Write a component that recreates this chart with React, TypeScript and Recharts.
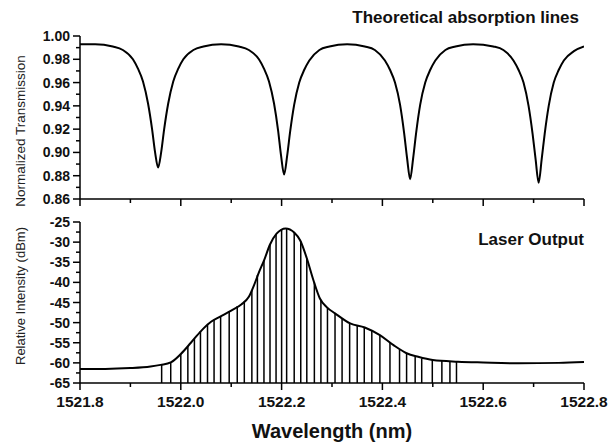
import { ComposedChart, Line, XAxis, YAxis, ReferenceLine } from 'recharts'

const FONT = '"Liberation Sans", Arial, sans-serif'

// top panel: theoretical transmission
const transWavelength = [
  1521.8, 1521.83, 1521.865, 1521.885, 1521.905, 1521.915, 1521.925, 1521.935, 1521.943, 1521.949,
  1521.955, 1521.961, 1521.967, 1521.975, 1521.985, 1521.995, 1522.005, 1522.025, 1522.045, 1522.08,
  1522.115, 1522.135, 1522.155, 1522.165, 1522.175, 1522.185, 1522.193, 1522.199, 1522.205, 1522.211,
  1522.217, 1522.225, 1522.235, 1522.245, 1522.255, 1522.275, 1522.295, 1522.33,
  1522.365, 1522.385, 1522.405, 1522.415, 1522.425, 1522.435, 1522.443, 1522.449, 1522.455, 1522.461,
  1522.467, 1522.475, 1522.485, 1522.495, 1522.505, 1522.525, 1522.545, 1522.58,
  1522.62, 1522.64, 1522.66, 1522.67, 1522.68, 1522.69, 1522.698, 1522.704, 1522.71, 1522.716,
  1522.722, 1522.73, 1522.74, 1522.75, 1522.76, 1522.78, 1522.8,
]
const transValue = [
  0.993, 0.993, 0.991, 0.988, 0.98, 0.972, 0.961, 0.942, 0.92, 0.9,
  0.887, 0.9, 0.92, 0.942, 0.961, 0.972, 0.98, 0.988, 0.991, 0.993,
  0.991, 0.988, 0.98, 0.972, 0.961, 0.942, 0.919, 0.897, 0.881, 0.897,
  0.918, 0.941, 0.96, 0.971, 0.979, 0.988, 0.991, 0.993,
  0.991, 0.988, 0.979, 0.971, 0.96, 0.941, 0.917, 0.895, 0.877, 0.895,
  0.917, 0.941, 0.96, 0.971, 0.979, 0.988, 0.991, 0.993,
  0.991, 0.988, 0.979, 0.971, 0.96, 0.94, 0.916, 0.894, 0.874, 0.894,
  0.916, 0.94, 0.96, 0.971, 0.979, 0.987, 0.991,
]
const transMajorTicks = [0.86, 0.88, 0.9, 0.92, 0.94, 0.96, 0.98, 1.0]
const transMinorTicks = [0.87, 0.89, 0.91, 0.93, 0.95, 0.97, 0.99]

// bottom panel: laser output envelope
const laserWavelength = [
  1521.8, 1521.85, 1521.9, 1521.94, 1521.96, 1521.98, 1522.0, 1522.02, 1522.04, 1522.06,
  1522.08, 1522.1, 1522.12, 1522.135, 1522.145, 1522.155, 1522.165, 1522.177, 1522.19, 1522.208,
  1522.225, 1522.237, 1522.25, 1522.263, 1522.276, 1522.29, 1522.306, 1522.336, 1522.365, 1522.395,
  1522.422, 1522.448, 1522.471, 1522.5, 1522.55, 1522.6, 1522.67, 1522.75, 1522.8,
]
const laserIntensity = [
  -61.5, -61.5, -61.3, -60.9, -60.5, -59.9, -57.8, -55.0, -52.1, -49.8,
  -48.4, -47.0, -45.5, -43.6, -40.8, -37.5, -34.6, -30.6, -27.9, -26.6,
  -27.6, -29.6, -34.0, -39.4, -44.0, -46.2, -47.7, -50.2, -51.2, -53.1,
  -55.6, -57.6, -58.5, -59.3, -59.7, -59.9, -60.1, -60.0, -59.8,
]

// individual longitudinal modes
const modeWavelength = [
  1521.962, 1521.98, 1522.0, 1522.014, 1522.027, 1522.039, 1522.053, 1522.066, 1522.079, 1522.096,
  1522.112, 1522.126, 1522.141, 1522.152, 1522.165, 1522.177, 1522.189, 1522.2, 1522.21, 1522.225,
  1522.238, 1522.25, 1522.265, 1522.278, 1522.291, 1522.306, 1522.32, 1522.335, 1522.35, 1522.364,
  1522.379, 1522.395, 1522.415, 1522.434, 1522.448, 1522.465, 1522.478, 1522.499, 1522.518, 1522.534,
  1522.547,
]
const modeIntensity = [
  -60.4, -59.9, -57.8, -55.8, -54.0, -52.1, -50.3, -49.3, -48.4, -47.2,
  -45.9, -44.8, -41.9, -38.2, -34.6, -30.5, -28.0, -26.8, -26.6, -27.6,
  -29.8, -34.0, -40.0, -44.4, -46.3, -47.7, -49.0, -50.1, -50.8, -51.2,
  -52.0, -53.1, -55.0, -56.6, -57.6, -58.4, -58.9, -59.3, -59.5, -59.6,
  -59.7,
]
const dbMajorTicks = [-65, -60, -55, -50, -45, -40, -35, -30, -25]
const dbMinorTicks = [-62.5, -57.5, -52.5, -47.5, -42.5, -37.5, -32.5, -27.5]
const wlMajorTicks = [1521.8, 1522.0, 1522.2, 1522.4, 1522.6, 1522.8]
const wlMinorTicks = [1521.9, 1522.1, 1522.3, 1522.5, 1522.7]

const transData = transWavelength.map((w, i) => ({ w, t: transValue[i] }))
const laserData = laserWavelength.map((w, i) => ({ w, db: laserIntensity[i] }))
const sortNum = (a: number[]) => [...a].sort((p, q) => p - q)
const isMajor = (v: number, majors: number[]) => majors.some(m => Math.abs(m - v) < 1e-6)

const makeXTick = (showLabel: boolean) => (props: any) => {
  const { x, y, payload } = props
  const major = isMajor(payload.value, wlMajorTicks)
  return (
    <g>
      <line x1={x} x2={x} y1={y} y2={y + (major ? 7 : 4)} stroke="#000" strokeWidth={1.5} />
      {showLabel && major && (
        <text x={x} y={y + 24} textAnchor="middle" fontFamily={FONT} fontWeight="bold" fontSize={15.5} fill="#111">
          {payload.value.toFixed(1)}
        </text>
      )}
    </g>
  )
}

const makeYTick = (majors: number[], digits: number) => (props: any) => {
  const { x, y, payload } = props
  const major = isMajor(payload.value, majors)
  return (
    <g>
      <line x1={x - (major ? 7 : 4)} x2={x} y1={y} y2={y} stroke="#000" strokeWidth={1.5} />
      {major && (
        <text x={x - 10} y={y} dy="0.36em" textAnchor="end" fontFamily={FONT} fontWeight="bold" fontSize={14} fill="#111">
          {payload.value.toFixed(digits)}
        </text>
      )}
    </g>
  )
}

const axisLine = { stroke: '#000', strokeWidth: 1.5 }

export default function App() {
  return (
    <div style={{ position: 'absolute', left: 0, top: 0, width: 610, height: 445, background: '#fff' }}>
      <div style={{ position: 'absolute', left: 0, top: 0 }}>
        <ComposedChart width={610} height={210} data={transData} margin={{ top: 36, right: 26, bottom: 0, left: 0 }}>
          <XAxis dataKey="w" type="number" domain={[1521.8, 1522.8]} allowDataOverflow
            ticks={sortNum([...wlMajorTicks, ...wlMinorTicks])} interval={0} height={11}
            tickSize={0} tickMargin={0} tickLine={false} axisLine={axisLine} tick={makeXTick(false)} />
          <YAxis type="number" domain={[0.86, 1.0]} allowDataOverflow width={80}
            ticks={sortNum([...transMajorTicks, ...transMinorTicks])} interval={0}
            tickSize={0} tickMargin={0} tickLine={false} axisLine={axisLine} tick={makeYTick(transMajorTicks, 2)} />
          <Line dataKey="t" type="monotone" dot={false} stroke="#000" strokeWidth={2} isAnimationActive={false} />
          <text x={579} y={23} textAnchor="end" fontFamily={FONT} fontWeight="bold" fontSize={17} fill="#111">
            Theoretical absorption lines
          </text>
          <text x={20} y={131} transform="rotate(-90 20 131)" textAnchor="middle" dy="0.35em" fontFamily={FONT} fontSize={13.5} fill="#222">
            Normalized Transmission
          </text>
        </ComposedChart>
      </div>
      <div style={{ position: 'absolute', left: 0, top: 210 }}>
        <ComposedChart width={610} height={235} data={laserData} margin={{ top: 12, right: 26, bottom: 0, left: 0 }}>
          <XAxis dataKey="w" type="number" domain={[1521.8, 1522.8]} allowDataOverflow
            ticks={sortNum([...wlMajorTicks, ...wlMinorTicks])} interval={0} height={62}
            tickSize={0} tickMargin={0} tickLine={false} axisLine={axisLine} tick={makeXTick(true)} />
          <YAxis type="number" domain={[-65, -25]} allowDataOverflow width={80}
            ticks={sortNum([...dbMajorTicks, ...dbMinorTicks])} interval={0}
            tickSize={0} tickMargin={0} tickLine={false} axisLine={axisLine} tick={makeYTick(dbMajorTicks, 0)} />
          {modeWavelength.map((w, i) => (
            <ReferenceLine key={w} ifOverflow="visible" stroke="#000" strokeWidth={1.5}
              segment={[{ x: w, y: -65 }, { x: w, y: modeIntensity[i] }]} />
          ))}
          <Line dataKey="db" type="monotone" dot={false} stroke="#000" strokeWidth={2} isAnimationActive={false} />
          <text x={584} y={35} textAnchor="end" fontFamily={FONT} fontWeight="bold" fontSize={17} fill="#111">
            Laser Output
          </text>
          <text x={20} y={86} transform="rotate(-90 20 86)" textAnchor="middle" dy="0.35em" fontFamily={FONT} fontSize={13} fill="#222">
            Relative Intensity (dBm)
          </text>
          <text x={332} y={228} textAnchor="middle" fontFamily={FONT} fontWeight="bold" fontSize={20} fill="#111">
            Wavelength (nm)
          </text>
        </ComposedChart>
      </div>
    </div>
  )
}
